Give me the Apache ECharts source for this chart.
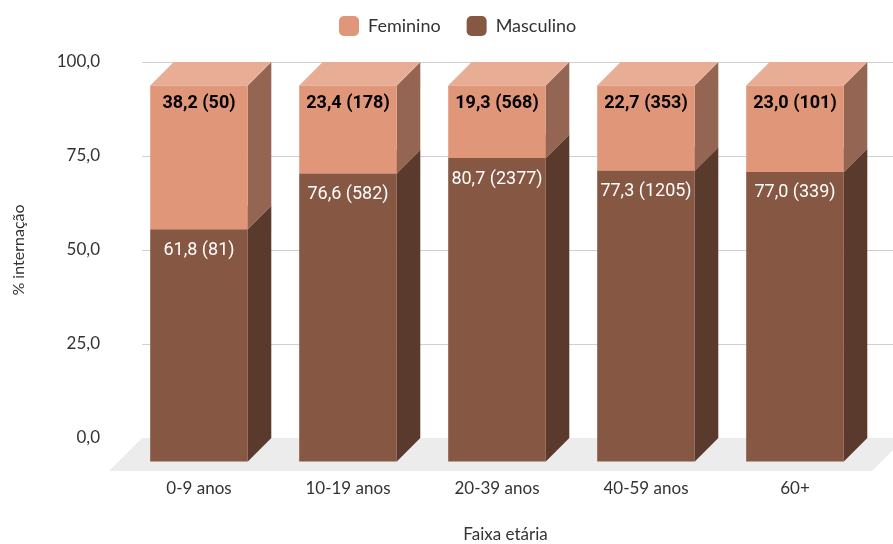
<!DOCTYPE html>
<html>
<head>
<meta charset="utf-8">
<script src="https://cdn.jsdelivr.net/npm/echarts@6/dist/echarts.min.js"></script>
<style>
  html, body { margin: 0; padding: 0; background: #fff; }
  #chart { width: 893px; height: 544px; }
</style>
</head>
<body>
<div id="chart"></div>
<script>
const categories = ['0-9 anos', '10-19 anos', '20-39 anos', '40-59 anos', '60+']
const femininoPct = [38.2, 23.4, 19.3, 22.7, 23.0]
const femininoN = [50, 178, 568, 353, 101]
const masculinoPct = [61.8, 76.6, 80.7, 77.3, 77.0]
const masculinoN = [81, 582, 2377, 1205, 339]
const yTicks = [0, 25, 50, 75, 100]

// 3d look, like the office chart
const DEPTH = 23.5
const FLOOR_DEPTH = 33
const FONT = 'Lato'

const fmt = (v) => v.toFixed(1).replace('.', ',')

function makeBar(colors, labelStyle, labelOffset, texts) {
  return function (params, api) {
    const idx = api.value(0)
    const lo = api.coord([idx, api.value(1)])
    const hi = api.coord([idx, api.value(2)])
    const w = api.size([1, 0])[0] * 0.655
    const xl = lo[0] - w / 2 - DEPTH
    const xr = xl + w
    const yb = lo[1] + DEPTH
    const yt = hi[1] + DEPTH
    return {
      type: 'group',
      children: [
        {
          type: 'polygon',
          shape: { points: [[xr, yb], [xr, yt], [xr + DEPTH, yt - DEPTH], [xr + DEPTH, yb - DEPTH]] },
          style: { fill: colors.side }
        },
        {
          type: 'polygon',
          shape: { points: [[xl, yt], [xr, yt], [xr + DEPTH, yt - DEPTH], [xl + DEPTH, yt - DEPTH]] },
          style: { fill: colors.top }
        },
        {
          type: 'rect',
          shape: { x: xl, y: yt, width: w, height: yb - yt },
          style: { fill: colors.front }
        },
        {
          type: 'text',
          x: (xl + xr) / 2,
          y: yt + labelOffset,
          style: Object.assign({
            text: texts[params.dataIndex],
            align: 'center',
            verticalAlign: 'middle'
          }, labelStyle)
        }
      ]
    }
  }
}

const mascColors = { front: '#865742', side: '#5a3a2d', top: '#9a6a54' }
const femColors = { front: '#e09678', side: '#946552', top: '#e8ad95' }

const mascTexts = masculinoPct.map((v, i) => fmt(v) + ' (' + masculinoN[i] + ')')
const femTexts = femininoPct.map((v, i) => fmt(v) + ' (' + femininoN[i] + ')')

const chart = echarts.init(document.getElementById('chart'))
chart.setOption({
  animation: false,
  legend: {
    data: ['Feminino', 'Masculino'],
    left: 334,
    top: 11,
    icon: 'roundRect',
    itemWidth: 20,
    itemHeight: 20,
    itemGap: 26,
    textStyle: { fontFamily: FONT, fontSize: 18, color: '#333', padding: [0, 0, 0, 4] }
  },
  grid: { left: 148, right: 0, top: 62, bottom: 106, outerBoundsMode: 'none' },
  xAxis: {
    type: 'category',
    data: categories,
    name: 'Faixa etária',
    nameLocation: 'middle',
    nameGap: 88,
    nameTextStyle: { fontFamily: FONT, fontSize: 17, color: '#333', padding: [0, 30, 0, 0] },
    axisLine: { lineStyle: { color: '#333', width: 1 } },
    axisTick: { show: false },
    axisLabel: {
      margin: 42,
      fontFamily: FONT,
      fontSize: 17,
      color: '#333',
      padding: [0, DEPTH * 2, 0, 0]
    }
  },
  yAxis: {
    type: 'value',
    min: yTicks[0],
    max: yTicks[yTicks.length - 1],
    interval: 25,
    name: '% internação',
    nameLocation: 'middle',
    nameGap: 121,
    nameTextStyle: { fontFamily: FONT, fontSize: 16, color: '#333' },
    axisLine: { show: false },
    axisTick: { show: true, length: 6, lineStyle: { color: '#d0d0d0' } },
    splitLine: { lineStyle: { color: '#d0d0d0' } },
    axisLabel: {
      margin: 48,
      fontFamily: FONT,
      fontSize: 17,
      color: '#333',
      formatter: (v) => fmt(v)
    }
  },
  series: [
    {
      name: 'floor',
      type: 'custom',
      z: 1,
      silent: true,
      data: [[0]],
      renderItem: (params, api) => {
        const cs = params.coordSys
        const y0 = cs.y + cs.height
        const x0 = cs.x - 6
        const x1 = cs.x + cs.width + 12
        return {
          type: 'polygon',
          shape: {
            points: [[x0, y0], [x1, y0], [x1 - FLOOR_DEPTH, y0 + FLOOR_DEPTH], [x0 - FLOOR_DEPTH, y0 + FLOOR_DEPTH]]
          },
          style: { fill: '#ececec' }
        }
      }
    },
    {
      name: 'Masculino',
      type: 'custom',
      itemStyle: { color: mascColors.front },
      encode: { x: 0, y: [1, 2] },
      data: masculinoPct.map((v, i) => [i, 0, v]),
      renderItem: makeBar(mascColors, { fill: '#fff', font: '18px Roboto' }, 21, mascTexts)
    },
    {
      name: 'Feminino',
      type: 'custom',
      itemStyle: { color: femColors.front },
      encode: { x: 0, y: [1, 2] },
      data: femininoPct.map((v, i) => [i, masculinoPct[i], masculinoPct[i] + v]),
      renderItem: makeBar(femColors, { fill: '#000', font: 'bold 18px Roboto' }, 18, femTexts)
    }
  ]
})
</script>
</body>
</html>
